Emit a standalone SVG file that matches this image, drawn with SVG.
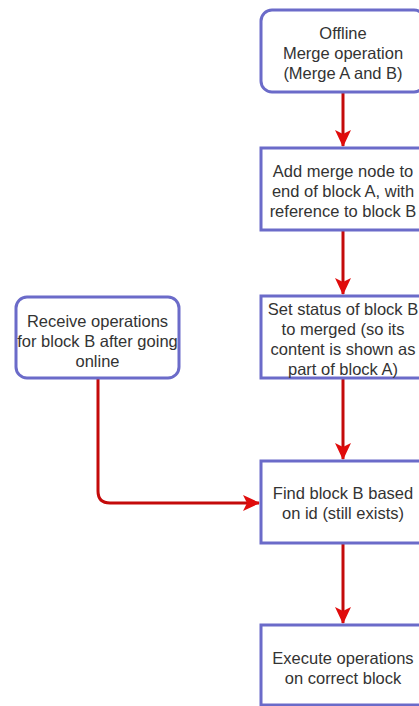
<svg xmlns="http://www.w3.org/2000/svg" width="419" height="706" viewBox="0 0 419 706">
<style>
.node{fill:#ffffff;stroke:#6b6bc9;stroke-width:3}
.lbl{font-family:"Liberation Sans",Arial,sans-serif;font-size:16.5px;fill:#333333;text-anchor:middle}
.edge{fill:none;stroke:#c40a0a;stroke-width:3}
</style>
<defs>
<marker id="arr" viewBox="0 0 18 16" refX="16" refY="8" markerWidth="18" markerHeight="16" markerUnits="userSpaceOnUse" orient="auto">
<path d="M0,0 L17,8 L0,16 L4,8 Z" fill="#e00c0c"/>
</marker>
</defs>
<rect width="419" height="706" fill="#ffffff"/>
<g id="connectors">
<path class="edge" d="M343,92 L343,146" marker-end="url(#arr)"/>
<path class="edge" d="M343,230 L343,294" marker-end="url(#arr)"/>
<path class="edge" d="M343,378 L343,459" marker-end="url(#arr)"/>
<path class="edge" d="M343,543 L343,623" marker-end="url(#arr)"/>
<path class="edge" d="M98,378 L98,491 Q98,503 110,503 L259,503" marker-end="url(#arr)"/>
</g>
<g id="n1">
<rect class="node" x="261" y="10" width="164" height="82" rx="11"/>
<text class="lbl"><tspan x="343" y="39">Offline</tspan><tspan x="343" y="59">Merge operation</tspan><tspan x="343" y="79">(Merge A and B)</tspan></text>
</g>
<g id="n2">
<rect class="node" x="261" y="148" width="164" height="82"/>
<text class="lbl"><tspan x="343" y="177">Add merge node to</tspan><tspan x="343" y="197">end of block A, with</tspan><tspan x="343" y="217">reference to block B</tspan></text>
</g>
<g id="n3">
<rect class="node" x="261" y="296" width="164" height="82"/>
<text class="lbl"><tspan x="343" y="315">Set status of block B</tspan><tspan x="343" y="335">to merged (so its</tspan><tspan x="343" y="355">content is shown as</tspan><tspan x="343" y="375">part of block A)</tspan></text>
</g>
<g id="n4">
<rect class="node" x="261" y="461" width="164" height="82"/>
<text class="lbl"><tspan x="343" y="499">Find block B based</tspan><tspan x="343" y="519">on id (still exists)</tspan></text>
</g>
<g id="n5">
<rect class="node" x="261" y="625" width="164" height="80"/>
<text class="lbl"><tspan x="343" y="664">Execute operations</tspan><tspan x="343" y="684">on correct block</tspan></text>
</g>
<g id="n0">
<rect class="node" x="16" y="297" width="163" height="81" rx="11"/>
<text class="lbl"><tspan x="97.5" y="327">Receive operations</tspan><tspan x="97.5" y="347">for block B after going</tspan><tspan x="97.5" y="367">online</tspan></text>
</g>
</svg>
